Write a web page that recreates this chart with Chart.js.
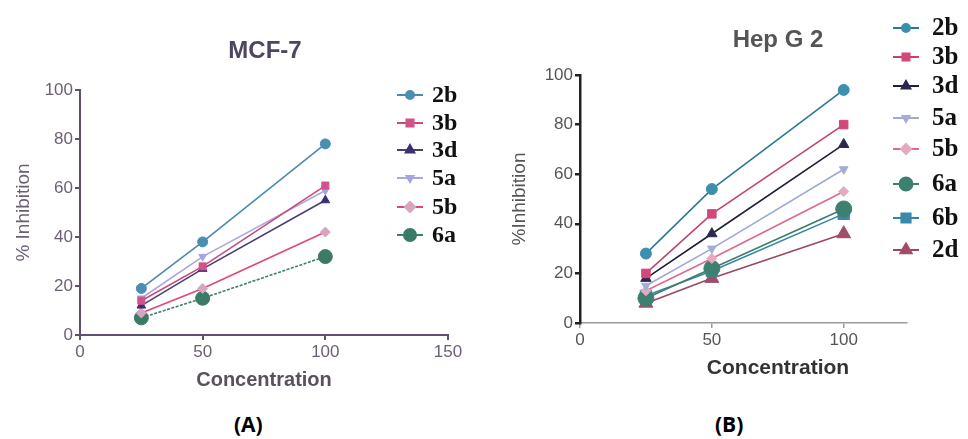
<!DOCTYPE html>
<html>
<head>
<meta charset="utf-8">
<script src="https://cdn.jsdelivr.net/npm/chart.js@4.4.0/dist/chart.umd.min.js"></script>
<style>
  html, body { margin: 0; padding: 0; background: #fff; }
  body { width: 968px; height: 439px; position: relative; overflow: hidden; }
  canvas { position: absolute; top: 0; }
  #chartA { left: 0; }
  #chartB { left: 484px; }
  .tag { position: absolute; top: 410px; font: bold 21px "Open Sans", sans-serif; color: #000; }
</style>
</head>
<body>
<canvas id="chartA" width="484" height="400"></canvas>
<canvas id="chartB" width="484" height="400"></canvas>
<div class="tag" style="left:234px">(A)</div>
<div class="tag" style="left:715px">(B)</div>
<script>
// concentrations tested
const concentration = [25, 50, 100];

// MCF-7, % inhibition
const mcfNames = ['2b', '3b', '3d', '5a', '5b', '6a'];
const mcf2b = [19, 38, 78];
const mcf3b = [14, 28, 61];
const mcf3d = [12, 27, 55];
const mcf5a = [15, 32, 59];
const mcf5b = [9, 19, 42];
const mcf6a = [7, 15, 32];

// Hep G 2, % inhibition
const hepNames = ['2b', '3b', '3d', '5a', '5b', '6a', '6b', '2d'];
const hep2b = [28, 54, 94];
const hep3b = [20, 44, 80];
const hep3d = [18, 36, 72];
const hep5a = [15, 30, 62];
const hep5b = [13, 26, 53];
const hep6a = [10, 22, 46];
const hep6b = [11, 21, 44];
const hep2d = [8, 18, 36];

const xTicksA = [0, 50, 100, 150];
const xTicksB = [0, 50, 100];
const yTicks = [0, 20, 40, 60, 80, 100];

// looks
const stylesA = [
  { line: '#4b8aab', fill: '#4a8fb2', shape: 'circle', r: 5, lr: 4 },
  { line: '#c44c7c', fill: '#d2528a', shape: 'rect', r: 5, lr: 5 },
  { line: '#4a3c74', fill: '#3e2f72', shape: 'triangle', r: 5, lr: 5 },
  { line: '#aaa7e2', fill: '#a6a4e2', shape: 'triangle', rot: 180, r: 4.5, lr: 4 },
  { line: '#e0467c', fill: '#d6a6c0', shape: 'rectRot', r: 5, lr: 5 },
  { line: '#3f7d6c', fill: '#3c7a68', shape: 'circle', r: 7, lr: 6, dash: [3, 1.5] }
];
const stylesB = [
  { line: '#2c7894', fill: '#3c8fae', shape: 'circle', r: 5.5, lr: 4 },
  { line: '#c2446e', fill: '#d2487a', shape: 'rect', r: 6, lr: 5 },
  { line: '#1f1f38', fill: '#2a2850', shape: 'triangle', r: 6, lr: 5 },
  { line: '#9ea8da', fill: '#a4acdc', shape: 'triangle', rot: 180, r: 5, lr: 4 },
  { line: '#dc6a8e', fill: '#e4aabd', shape: 'rectRot', r: 5, lr: 5 },
  { line: '#3a7e6c', fill: '#3e8070', shape: 'circle', r: 8, lr: 6.5 },
  { line: '#3784a6', fill: '#3a88ac', shape: 'rect', r: 8, lr: 6.5 },
  { line: '#9c4666', fill: '#a24c6c', shape: 'triangle', r: 8, lr: 6.5 }
];

function toPoints(values) {
  return concentration.map((x, i) => ({ x: x, y: values[i] }));
}

function buildSets(names, series, styles) {
  return names.map((name, i) => {
    const s = styles[i];
    return {
      label: name,
      data: toPoints(series[i]),
      borderColor: s.line,
      borderWidth: 1.6,
      borderDash: s.dash || [],
      pointStyle: s.shape,
      rotation: s.rot || 0,
      pointRadius: s.r,
      pointBackgroundColor: s.fill,
      pointBorderColor: s.fill,
      pointBorderWidth: 1,
      legendRadius: s.lr,
      tension: 0
    };
  });
}

const family = '"Liberation Sans", Arial, sans-serif';

// titles + side legend, drawn on the canvas
const panelText = {
  id: 'panelText',
  afterDraw(chart, args, opts) {
    const ctx = chart.ctx;
    ctx.save();
    ctx.textAlign = 'center';
    ctx.textBaseline = 'middle';
    ctx.fillStyle = opts.titleColor;
    ctx.font = 'bold 24px ' + family;
    ctx.fillText(opts.title, opts.titleX, opts.titleY);

    ctx.fillStyle = opts.xTitleColor;
    ctx.font = 'bold ' + opts.xTitleSize + 'px ' + family;
    ctx.fillText('Concentration', opts.xTitleX, opts.xTitleY);

    chart.data.datasets.forEach((ds, i) => {
      const y = opts.legendY[i];
      const x0 = opts.legendX;
      ctx.strokeStyle = ds.borderColor;
      ctx.lineWidth = 2;
      ctx.setLineDash([]);
      ctx.beginPath();
      ctx.moveTo(x0, y);
      ctx.lineTo(x0 + 26, y);
      ctx.stroke();
      ctx.fillStyle = ds.pointBackgroundColor;
      ctx.strokeStyle = ds.pointBorderColor;
      Chart.helpers.drawPoint(ctx, {
        pointStyle: ds.pointStyle,
        rotation: ds.rotation,
        radius: ds.legendRadius,
        borderWidth: 1
      }, x0 + 13, y);
      ctx.fillStyle = '#111';
      ctx.font = 'bold ' + opts.legendSize + 'px "Liberation Serif", "Times New Roman", serif';
      ctx.textAlign = 'left';
      ctx.fillText(ds.label, opts.textX, y + 1);
    });
    ctx.restore();
  }
};

function makeChart(el, cfg) {
  const axis = (color, width) => ({
    display: true,
    drawOnChartArea: false,
    drawTicks: true,
    tickLength: 5,
    color: color,
    lineWidth: width
  });
  return new Chart(el, {
    type: 'line',
    data: { datasets: cfg.datasets },
    options: {
      responsive: false,
      animation: false,
      layout: { padding: cfg.padding },
      plugins: {
        legend: { display: false },
        tooltip: { enabled: false },
        panelText: cfg.text
      },
      scales: {
        x: {
          type: 'linear',
          min: 0,
          max: cfg.xMax,
          afterBuildTicks: (s) => { s.ticks = cfg.xTicks.map(v => ({ value: v })); },
          afterFit: (s) => { s.height = cfg.xHeight; },
          grid: axis(cfg.xAxisColor, cfg.xAxisWidth),
          border: { display: true, color: cfg.xAxisColor, width: cfg.xAxisWidth },
          ticks: { color: cfg.tickColor, padding: 2, font: { size: 17, family: family } }
        },
        y: {
          min: 0,
          max: 100,
          afterBuildTicks: (s) => { s.ticks = yTicks.map(v => ({ value: v })); },
          afterFit: (s) => { s.width = cfg.yWidth; },
          grid: axis(cfg.yAxisColor, cfg.yAxisWidth),
          border: { display: true, color: cfg.yAxisColor, width: cfg.yAxisWidth },
          ticks: { color: cfg.tickColor, padding: 2, font: { size: 17, family: family } },
          title: {
            display: true,
            text: cfg.yTitle,
            color: cfg.tickColor,
            font: { size: 19, family: family },
            padding: { top: cfg.yTitlePad, bottom: 0 }
          }
        }
      }
    },
    plugins: [panelText]
  });
}

makeChart(document.getElementById('chartA'), {
  datasets: buildSets(mcfNames, [mcf2b, mcf3b, mcf3d, mcf5a, mcf5b, mcf6a], stylesA),
  padding: { top: 90, right: 36, bottom: 0, left: 0 },
  xMax: 150,
  xTicks: xTicksA,
  xHeight: 65,
  yWidth: 80,
  yTitlePad: 12.6,
  yTitle: '% Inhibition',
  tickColor: '#6c5f74',
  xAxisColor: '#5f5070',
  xAxisWidth: 2,
  yAxisColor: '#5f5070',
  yAxisWidth: 2,
  text: {
    title: 'MCF-7', titleX: 265, titleY: 51, titleColor: '#4e4660',
    xTitleX: 264, xTitleY: 380, xTitleSize: 20, xTitleColor: '#5a5060',
    legendX: 397, textX: 432, legendSize: 24,
    legendY: [95, 123, 150, 178, 207, 235]
  }
});

makeChart(document.getElementById('chartB'), {
  datasets: buildSets(hepNames, [hep2b, hep3b, hep3d, hep5a, hep5b, hep6a, hep6b, hep2d], stylesB),
  padding: { top: 75, right: 61, bottom: 0, left: 0 },
  xMax: 124,
  xTicks: xTicksB,
  xHeight: 77,
  yWidth: 96,
  yTitlePad: 24.6,
  yTitle: '%Inhibition',
  tickColor: '#555',
  xAxisColor: '#999',
  xAxisWidth: 1.5,
  yAxisColor: '#222',
  yAxisWidth: 2.5,
  text: {
    title: 'Hep G 2', titleX: 294, titleY: 40, titleColor: '#555',
    xTitleX: 294, xTitleY: 368, xTitleSize: 21, xTitleColor: '#333',
    legendX: 409, textX: 448, legendSize: 25,
    legendY: [28, 57, 86, 118, 149, 184, 218, 250]
  }
});
</script>
</body>
</html>
